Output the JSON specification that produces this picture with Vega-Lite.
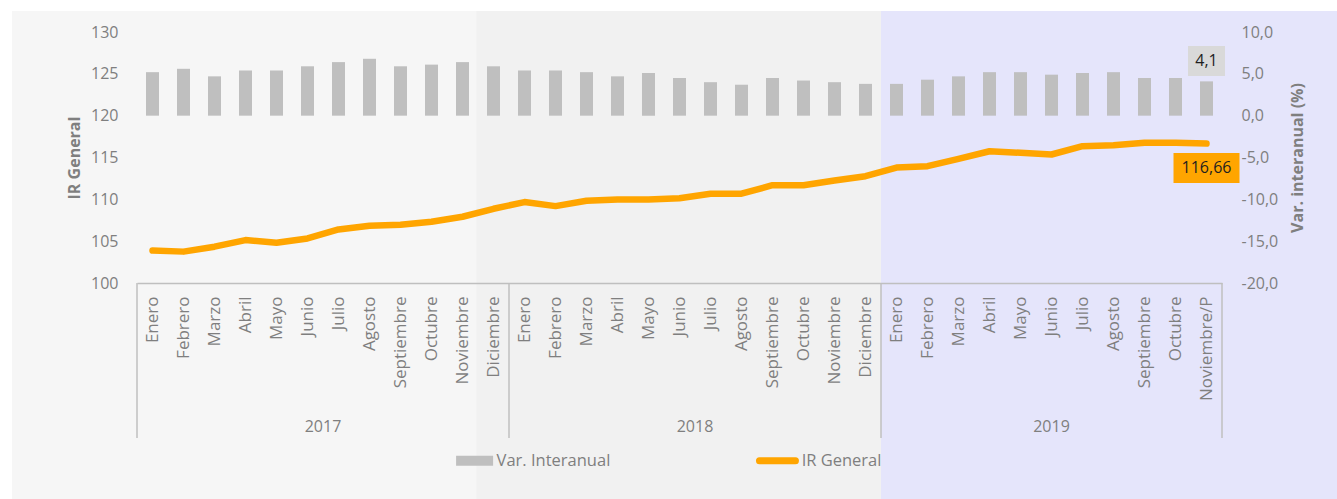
{
  "$schema": "https://vega.github.io/schema/vega-lite/v6.json",
  "width": 1085,
  "height": 251,
  "autosize": "none",
  "padding": {"left": 137, "top": 32, "right": 115, "bottom": 216},
  "background": "#ffffff",
  "config": {
    "font": "Open Sans",
    "view": {"stroke": null},
    "locale": {"number": {"decimal": ",", "thousands": ".", "grouping": [3], "currency": ["", ""], "minus": "-"}},
    "axis": {
      "grid": false,
      "ticks": false,
      "labelFont": "Open Sans",
      "labelFontSize": 16,
      "labelColor": "#7f7f7f",
      "titleFont": "Open Sans",
      "titleFontSize": 16,
      "titleColor": "#7f7f7f",
      "titleFontWeight": "bold"
    }
  },
  "datasets": {
    "main": [
      {"anio": "2017", "mes": "Enero", "periodo": "2017 Enero", "var": 5.2, "ir": 103.87},
      {"anio": "2017", "mes": "Febrero", "periodo": "2017 Febrero", "var": 5.6, "ir": 103.75},
      {"anio": "2017", "mes": "Marzo", "periodo": "2017 Marzo", "var": 4.7, "ir": 104.34},
      {"anio": "2017", "mes": "Abril", "periodo": "2017 Abril", "var": 5.4, "ir": 105.13},
      {"anio": "2017", "mes": "Mayo", "periodo": "2017 Mayo", "var": 5.4, "ir": 104.82},
      {"anio": "2017", "mes": "Junio", "periodo": "2017 Junio", "var": 5.9, "ir": 105.33},
      {"anio": "2017", "mes": "Julio", "periodo": "2017 Julio", "var": 6.4, "ir": 106.4},
      {"anio": "2017", "mes": "Agosto", "periodo": "2017 Agosto", "var": 6.8, "ir": 106.85},
      {"anio": "2017", "mes": "Septiembre", "periodo": "2017 Septiembre", "var": 5.9, "ir": 106.97},
      {"anio": "2017", "mes": "Octubre", "periodo": "2017 Octubre", "var": 6.1, "ir": 107.33},
      {"anio": "2017", "mes": "Noviembre", "periodo": "2017 Noviembre", "var": 6.4, "ir": 107.92},
      {"anio": "2017", "mes": "Diciembre", "periodo": "2017 Diciembre", "var": 5.9, "ir": 108.87},
      {"anio": "2018", "mes": "Enero", "periodo": "2018 Enero", "var": 5.4, "ir": 109.67},
      {"anio": "2018", "mes": "Febrero", "periodo": "2018 Febrero", "var": 5.4, "ir": 109.19},
      {"anio": "2018", "mes": "Marzo", "periodo": "2018 Marzo", "var": 5.2, "ir": 109.83},
      {"anio": "2018", "mes": "Abril", "periodo": "2018 Abril", "var": 4.7, "ir": 109.99},
      {"anio": "2018", "mes": "Mayo", "periodo": "2018 Mayo", "var": 5.1, "ir": 109.99},
      {"anio": "2018", "mes": "Junio", "periodo": "2018 Junio", "var": 4.5, "ir": 110.14},
      {"anio": "2018", "mes": "Julio", "periodo": "2018 Julio", "var": 4.0, "ir": 110.67},
      {"anio": "2018", "mes": "Agosto", "periodo": "2018 Agosto", "var": 3.7, "ir": 110.67},
      {"anio": "2018", "mes": "Septiembre", "periodo": "2018 Septiembre", "var": 4.5, "ir": 111.69},
      {"anio": "2018", "mes": "Octubre", "periodo": "2018 Octubre", "var": 4.2, "ir": 111.69},
      {"anio": "2018", "mes": "Noviembre", "periodo": "2018 Noviembre", "var": 4.0, "ir": 112.26},
      {"anio": "2018", "mes": "Diciembre", "periodo": "2018 Diciembre", "var": 3.8, "ir": 112.77},
      {"anio": "2019", "mes": "Enero", "periodo": "2019 Enero", "var": 3.8, "ir": 113.8},
      {"anio": "2019", "mes": "Febrero", "periodo": "2019 Febrero", "var": 4.3, "ir": 113.96},
      {"anio": "2019", "mes": "Marzo", "periodo": "2019 Marzo", "var": 4.7, "ir": 114.84},
      {"anio": "2019", "mes": "Abril", "periodo": "2019 Abril", "var": 5.2, "ir": 115.75},
      {"anio": "2019", "mes": "Mayo", "periodo": "2019 Mayo", "var": 5.2, "ir": 115.56},
      {"anio": "2019", "mes": "Junio", "periodo": "2019 Junio", "var": 4.9, "ir": 115.36},
      {"anio": "2019", "mes": "Julio", "periodo": "2019 Julio", "var": 5.1, "ir": 116.35},
      {"anio": "2019", "mes": "Agosto", "periodo": "2019 Agosto", "var": 5.2, "ir": 116.47},
      {"anio": "2019", "mes": "Septiembre", "periodo": "2019 Septiembre", "var": 4.5, "ir": 116.75},
      {"anio": "2019", "mes": "Octubre", "periodo": "2019 Octubre", "var": 4.5, "ir": 116.75},
      {"anio": "2019", "mes": "Noviembre/P", "periodo": "2019 Noviembre/P", "var": 4.1, "ir": 116.66}
    ]
  },
  "resolve": {"scale": {"x": "independent", "y": "independent"}},
  "layer": [
    {
      "data": {"values": [{}]},
      "layer": [
        {
          "mark": {"type": "rect", "color": "#f6f6f6", "zindex": -1},
          "encoding": {
            "x": {"datum": -4.53, "type": "quantitative", "scale": {"domain": [-0.5, 34.5], "nice": false, "zero": false}, "axis": null},
            "x2": {"datum": 10.44},
            "y": {"datum": 132.51, "type": "quantitative", "scale": {"domain": [100, 130], "nice": false, "zero": false}, "axis": null},
            "y2": {"datum": 74}
          }
        },
        {
          "mark": {"type": "rect", "color": "#f1f1f1", "zindex": -1},
          "encoding": {
            "x": {"datum": 10.44, "type": "quantitative"},
            "x2": {"datum": 23.5},
            "y": {"datum": 132.51, "type": "quantitative"},
            "y2": {"datum": 74}
          }
        },
        {
          "mark": {"type": "rect", "color": "#e5e5fb", "zindex": -1},
          "encoding": {
            "x": {"datum": 23.5, "type": "quantitative"},
            "x2": {"datum": 39},
            "y": {"datum": 132.51, "type": "quantitative"},
            "y2": {"datum": 74}
          }
        },
        {
          "mark": {"type": "point", "shape": "M-1,-0.27H1V0.27H-1Z", "size": 1369, "filled": true, "color": "#bfbfbf", "opacity": 1},
          "encoding": {
            "x": {"datum": 10.39, "type": "quantitative"},
            "y": {"datum": 78.76, "type": "quantitative"}
          }
        },
        {
          "mark": {"type": "text", "text": "Var. Interanual", "align": "left", "baseline": "middle", "fontSize": 16.5, "color": "#7f7f7f"},
          "encoding": {
            "x": {"datum": 11.1, "type": "quantitative"},
            "y": {"datum": 78.76, "type": "quantitative"}
          }
        },
        {
          "mark": {"type": "rule", "color": "#ffa500", "strokeWidth": 7, "strokeCap": "round"},
          "encoding": {
            "x": {"datum": 19.58, "type": "quantitative"},
            "x2": {"datum": 20.74},
            "y": {"datum": 78.76, "type": "quantitative"}
          }
        },
        {
          "mark": {"type": "text", "text": "IR General", "align": "left", "baseline": "middle", "fontSize": 16.5, "color": "#7f7f7f"},
          "encoding": {
            "x": {"datum": 20.94, "type": "quantitative"},
            "y": {"datum": 78.76, "type": "quantitative"}
          }
        }
      ]
    },
    {
      "data": {"name": "main"},
      "encoding": {
        "x": {
          "field": "periodo", "type": "ordinal", "sort": null,
          "scale": {"type": "band", "paddingInner": 0, "paddingOuter": 0},
          "axis": {
            "zindex": 1, "orient": "bottom",
            "title": null, "labelAngle": -90, "labelAlign": "right", "labelBaseline": "middle",
            "labelFontSize": 17,
            "labelPadding": 13, "labelOverlap": false, "domain": true, "domainColor": "#bfbfbf", "domainWidth": 1.5,
            "labelExpr": "split(datum.label, ' ')[1]"
          }
        }
      },
      "resolve": {"scale": {"y": "independent"}},
      "layer": [
        {
          "layer": [
            {
              "mark": {"type": "bar", "color": "#bfbfbf", "width": {"band": 0.42}},
              "encoding": {
                "y": {
                  "field": "var", "type": "quantitative",
                  "scale": {"domain": [-20, 10], "nice": false, "zero": false},
                  "axis": {
                    "zindex": 1,
                    "orient": "right", "values": [-20, -15, -10, -5, 0, 5, 10], "format": ".1f",
                    "title": "Var. interanual (%)", "labelPadding": 19, "labelAlign": "left",
                    "titleAngle": 270, "titleBaseline": "top", "titlePadding": 12, "domain": false
                  }
                },
                "y2": {"datum": 0}
              }
            },
            {
              "transform": [{"filter": "datum.periodo == '2019 Noviembre/P'"}],
              "mark": {"type": "point", "shape": "M-1,-0.81H1V0.81H-1Z", "size": 1369, "filled": true, "color": "#d9d9d9", "opacity": 1},
              "encoding": {"y": {"datum": 6.53, "type": "quantitative"}}
            },
            {
              "transform": [{"filter": "datum.periodo == '2019 Noviembre/P'"}],
              "mark": {"type": "text", "fontSize": 16, "color": "#1f1f1f", "baseline": "middle"},
              "encoding": {
                "y": {"datum": 6.53, "type": "quantitative"},
                "text": {"field": "var", "type": "quantitative", "format": ".1f"}
              }
            }
          ]
        },
        {
          "layer": [
            {
              "mark": {"type": "line", "color": "#ffa500", "strokeWidth": 6.5, "strokeCap": "round", "strokeJoin": "round"},
              "encoding": {
                "y": {
                  "field": "ir", "type": "quantitative",
                  "scale": {"domain": [100, 130], "nice": false, "zero": false},
                  "axis": {
                    "zindex": 1,
                    "orient": "left", "values": [100, 105, 110, 115, 120, 125, 130], "format": "d",
                    "title": "IR General", "labelPadding": 19, "titlePadding": 8, "domain": false
                  }
                }
              }
            },
            {
              "transform": [{"filter": "datum.mes == 'Enero'"}],
              "mark": {"type": "rule", "color": "#bfbfbf", "strokeWidth": 1.5},
              "encoding": {
                "x": {"field": "periodo", "type": "ordinal", "sort": null, "bandPosition": 0},
                "y": {"datum": 100, "type": "quantitative"},
                "y2": {"datum": 81.47}
              }
            },
            {
              "transform": [{"filter": "datum.periodo == '2019 Noviembre/P'"}],
              "mark": {"type": "rule", "color": "#bfbfbf", "strokeWidth": 1.5},
              "encoding": {
                "x": {"field": "periodo", "type": "ordinal", "sort": null, "bandPosition": 1},
                "y": {"datum": 100, "type": "quantitative"},
                "y2": {"datum": 81.47}
              }
            },
            {
              "transform": [{"filter": "datum.mes == 'Julio' && datum.anio != '2019'"}],
              "mark": {"type": "text", "fontSize": 16, "color": "#7f7f7f", "baseline": "middle", "align": "center"},
              "encoding": {
                "x": {"field": "periodo", "type": "ordinal", "sort": null, "bandPosition": 0},
                "y": {"datum": 82.79, "type": "quantitative"},
                "text": {"field": "anio", "type": "nominal"}
              }
            },
            {
              "transform": [{"filter": "datum.mes == 'Junio' && datum.anio == '2019'"}],
              "mark": {"type": "text", "fontSize": 16, "color": "#7f7f7f", "baseline": "middle", "align": "center"},
              "encoding": {
                "x": {"field": "periodo", "type": "ordinal", "sort": null, "bandPosition": 0.5},
                "y": {"datum": 82.79, "type": "quantitative"},
                "text": {"field": "anio", "type": "nominal"}
              }
            },
            {
              "transform": [{"filter": "datum.periodo == '2019 Noviembre/P'"}],
              "mark": {"type": "point", "shape": "M-1,-0.4545H1V0.4545H-1Z", "size": 4356, "filled": true, "color": "#ffa500", "opacity": 1},
              "encoding": {"y": {"datum": 113.74, "type": "quantitative"}}
            },
            {
              "transform": [{"filter": "datum.periodo == '2019 Noviembre/P'"}],
              "mark": {"type": "text", "fontSize": 16, "color": "#1f1f1f", "baseline": "middle"},
              "encoding": {
                "y": {"datum": 113.74, "type": "quantitative"},
                "text": {"field": "ir", "type": "quantitative", "format": ".2f"}
              }
            }
          ]
        }
      ]
    }
  ]
}
